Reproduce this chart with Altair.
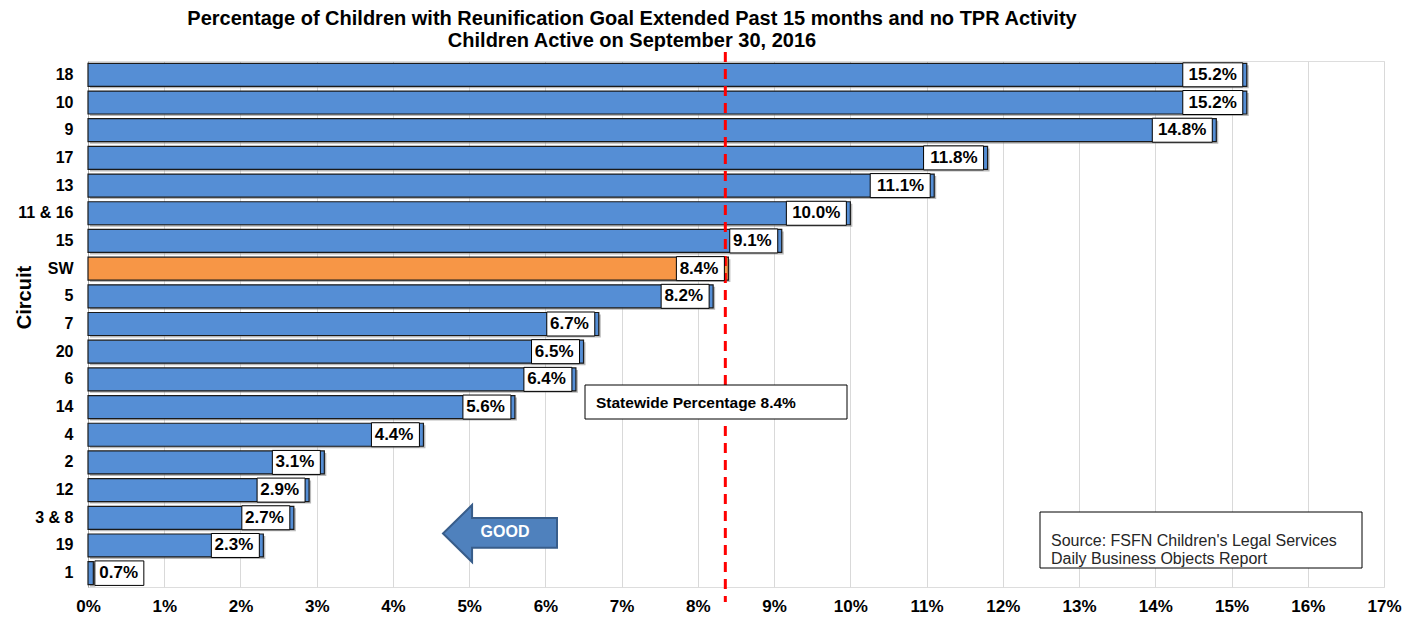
import altair as alt
import pandas as pd

circuits = ["18", "10", "9", "17", "13", "11 & 16", "15", "SW", "5", "7",
            "20", "6", "14", "4", "2", "12", "3 & 8", "19", "1"]
values = [15.2, 15.2, 14.8, 11.8, 11.1, 10.0, 9.1, 8.4, 8.2, 6.7,
          6.5, 6.4, 5.6, 4.4, 3.1, 2.9, 2.7, 2.3, 0.07]
labels = ["15.2%", "15.2%", "14.8%", "11.8%", "11.1%", "10.0%", "9.1%", "8.4%", "8.2%", "6.7%",
          "6.5%", "6.4%", "5.6%", "4.4%", "3.1%", "2.9%", "2.7%", "2.3%", "0.7%"]
statewide = 8.36
x_ticks = list(range(0, 18))

FONT = "Liberation Sans"

df = pd.DataFrame({"circuit": circuits, "value": values, "label": labels,
                   "group": ["SW" if c == "SW" else "Circuit" for c in circuits]})

y_enc = alt.Y("circuit:N", sort=circuits,
              scale=alt.Scale(paddingInner=0.17, paddingOuter=0.085),
              axis=alt.Axis(title="Circuit", titleAngle=-90, titleX=-64, titleY=236,
                            titleAlign="center", titleBaseline="middle",
                            titleFontSize=20, titleFont=FONT, titleFontWeight="bold",
                            labelFontSize=16, labelFont=FONT, labelFontWeight="bold",
                            labelColor="#000000", labelPadding=15, ticks=False,
                            domainColor="#A6A6A6", grid=False))
x_enc = alt.X("value:Q", scale=alt.Scale(domain=[0, 17], nice=False),
              axis=alt.Axis(title=None, values=x_ticks, labelExpr="datum.value + '%'",
                            labelFontSize=17, labelFont=FONT, labelFontWeight="bold",
                            labelColor="#000000", labelPadding=11, ticks=False,
                            labelFlush=False, labelBound=False,
                            domain=False, grid=True, gridColor="#D9D9D9", gridWidth=1))

base = alt.Chart(df)

shadow = base.mark_bar(color="#7F7F7F", opacity=0.55, xOffset=2, yOffset=2).encode(
    x=x_enc, y=y_enc)

bars = base.mark_bar(stroke="#1A1A1A", strokeWidth=1.2).encode(
    x=x_enc, y=y_enc,
    color=alt.Color("group:N", scale=alt.Scale(domain=["Circuit", "SW"],
                                               range=["#558ED5", "#F79646"]),
                    legend=None))

rule_df = pd.DataFrame({"value": [statewide]})
rule = alt.Chart(rule_df).mark_rule(color="#FF0000", strokeWidth=3,
                                    strokeDash=[10, 7]).encode(
    x=alt.X("value:Q"), y=alt.value(-9), y2=alt.value(541))

box5 = base.transform_filter("datum.value >= 1 && length(datum.label) == 5").mark_point(
    shape="M-1,-0.4L1,-0.4L1,0.4L-1,0.4Z", size=3600, filled=True, fill="white",
    stroke="#000000", strokeWidth=1, opacity=1, xOffset=-34).encode(x=x_enc, y=y_enc)
box4 = base.transform_filter("datum.value >= 1 && length(datum.label) == 4").mark_point(
    shape="M-1,-0.5L1,-0.5L1,0.5L-1,0.5Z", size=2304, filled=True, fill="white",
    stroke="#000000", strokeWidth=1, opacity=1, xOffset=-28).encode(x=x_enc, y=y_enc)
box_out = base.transform_filter("datum.value < 1").mark_point(
    shape="M-1,-0.5L1,-0.5L1,0.5L-1,0.5Z", size=2401, filled=True, fill="white",
    stroke="#000000", strokeWidth=1, opacity=1, xOffset=26).encode(x=x_enc, y=y_enc)

txt_in = base.transform_filter("datum.value >= 1").mark_text(
    align="right", baseline="middle", dx=-10, fontSize=17, font=FONT,
    fontWeight="bold", color="#000000").encode(x=x_enc, y=y_enc, text="label:N")
txt_out = base.transform_filter("datum.value < 1").mark_text(
    align="left", baseline="middle", dx=6, fontSize=17, font=FONT,
    fontWeight="bold", color="#000000").encode(x=x_enc, y=y_enc, text="label:N")

one = alt.Data(values=[{}])

sw_box = alt.Chart(one).mark_rect(fill="white", stroke="#000000", strokeWidth=1).encode(
    x=alt.value(497), x2=alt.value(759), y=alt.value(324), y2=alt.value(358))
sw_text = alt.Chart(one).mark_text(align="left", baseline="middle", fontSize=15.5, font=FONT,
                                   fontWeight="bold", color="#000000").encode(
    x=alt.value(508), y=alt.value(342), text=alt.value("Statewide Percentage 8.4%"))

src_box = alt.Chart(one).mark_rect(fill="white", stroke="#000000", strokeWidth=1).encode(
    x=alt.value(952), x2=alt.value(1274), y=alt.value(451), y2=alt.value(507))
src_text = alt.Chart(one).mark_text(align="left", baseline="middle", fontSize=16, font=FONT,
                                    color="#262626", lineHeight=18).encode(
    x=alt.value(963), y=alt.value(480),
    text=alt.value(["Source: FSFN Children's Legal Services", "Daily Business Objects Report"]))

arrow = alt.Chart(one).mark_point(
    shape="M-1,0L-0.49,-0.5L-0.49,-0.27L1,-0.27L1,0.25L-0.49,0.25L-0.49,0.5Z",
    size=12996, filled=True, fill="#4F81BD", stroke="#385D8A", strokeWidth=2,
    opacity=1).encode(x=alt.value(412), y=alt.value(472.5))
good = alt.Chart(one).mark_text(align="center", baseline="middle", fontSize=16, font=FONT,
                                fontWeight="bold", color="white").encode(
    x=alt.value(417), y=alt.value(471), text=alt.value("GOOD"))

chart = alt.layer(shadow, bars, rule, box5, box4, box_out, txt_in, txt_out,
                  sw_box, sw_text, src_box, src_text, arrow, good).properties(
    width=1296, height=526,
    title=alt.TitleParams(
        text=["Percentage of Children with Reunification Goal Extended Past 15 months and no TPR Activity",
              "Children Active on  September 30, 2016"],
        font=FONT, fontSize=20, fontWeight="bold", color="#000000",
        anchor="middle", frame="group", dx=-104, offset=0, lineHeight=22),
    autosize=alt.AutoSizeParams(type="none"),
    padding={"left": 80, "top": 53, "right": 26, "bottom": 32},
).configure_view(stroke=None).configure(background="white")

chart.save("out.html", embed_options={"renderer": "svg", "actions": False})
